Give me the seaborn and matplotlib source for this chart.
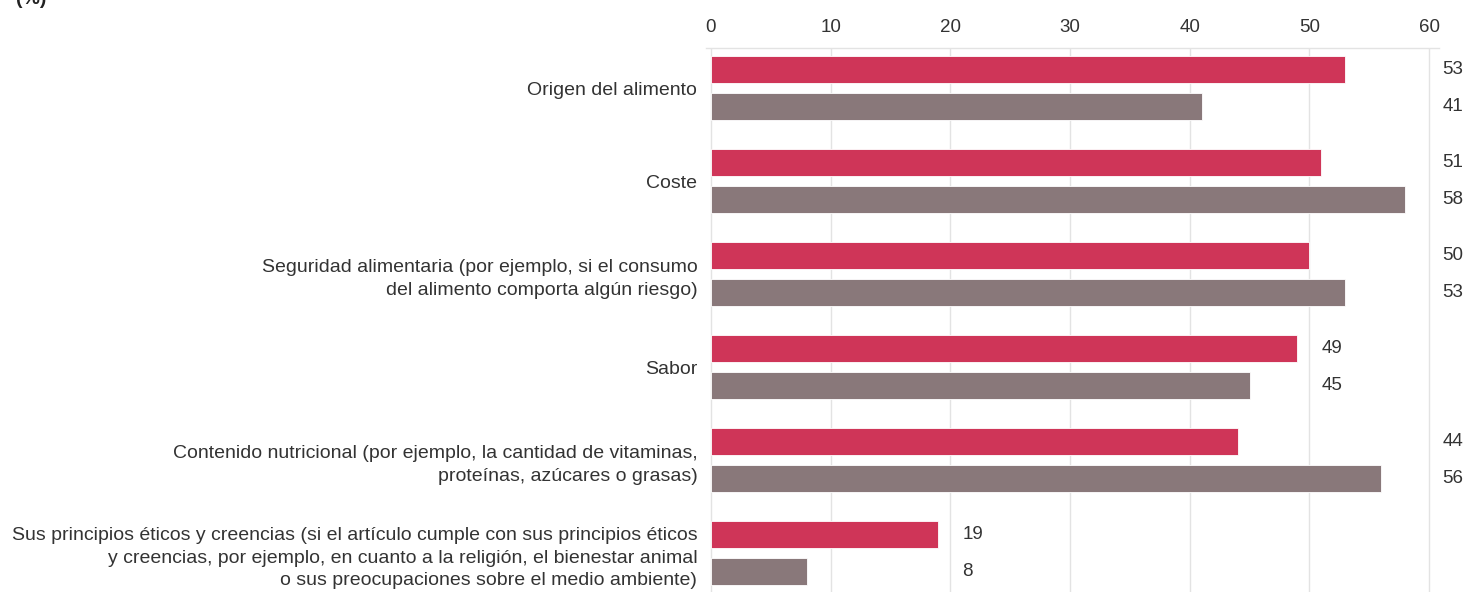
import matplotlib
matplotlib.use("Agg")
import matplotlib.pyplot as plt
import seaborn as sns
import pandas as pd

categories = [
    "Origen del alimento",
    "Coste",
    "Seguridad alimentaria (por ejemplo, si el consumo\ndel alimento comporta algún riesgo)",
    "Sabor",
    "Contenido nutricional (por ejemplo, la cantidad de vitaminas,\nproteínas, azúcares o grasas)",
    "Sus principios éticos y creencias (si el artículo cumple con sus principios éticos\ny creencias, por ejemplo, en cuanto a la religión, el bienestar animal\no sus preocupaciones sobre el medio ambiente)",
]
series_names = ["España", "UE27"]
values_a = [53, 51, 50, 49, 44, 19]
values_b = [41, 58, 53, 45, 56, 8]
x_ticks = [0, 10, 20, 30, 40, 50, 60]

colors = ["#CF3558", "#89787A"]

df = pd.DataFrame({
    "cat": categories * 2,
    "serie": [series_names[0]] * len(categories) + [series_names[1]] * len(categories),
    "val": values_a + values_b,
})

sns.set_theme(style="white")
FONT = ["Liberation Sans Narrow", "Liberation Sans", "DejaVu Sans"]
plt.rcParams["font.family"] = FONT

W, H = 1463, 592
fig = plt.figure(figsize=(W / 100, H / 100), dpi=100)
px0, px60 = 711, 1429
ppu = (px60 - px0) / 60.0
xmin, xmax = -0.45, 60.8
left = (px0 + xmin * ppu) / W
right = (px0 + xmax * ppu) / W
top_px = 48
ax = fig.add_axes([left, -0.002, right - left, (H - top_px) / H + 0.002])

sns.barplot(data=df, y="cat", x="val", hue="serie", palette=colors,
            orient="h", width=0.8, gap=0.27, ax=ax, legend=False,
            edgecolor="white", linewidth=0.6, saturation=1)

ax.set_xlim(xmin, xmax)
ax.set_ylim(5.43, -0.43)
ax.set_xticks(x_ticks)
ax.xaxis.tick_top()
ax.set_xlabel("")
ax.set_ylabel("")
ax.tick_params(axis="x", length=0, pad=9, labelsize=13.5, colors="#333333")
ax.tick_params(axis="y", length=0, pad=6, labelsize=14, colors="#333333")
for t in ax.get_yticklabels():
    t.set_multialignment("right")
    t.set_linespacing(1.45)
ax.grid(axis="x", color="#E3E3E3", linewidth=1)
ax.set_axisbelow(True)
for s in ["left", "right", "bottom"]:
    ax.spines[s].set_visible(False)
ax.spines["top"].set_color("#E3E3E3")
ax.spines["top"].set_linewidth(1)

# value labels
for i in range(len(categories)):
    m = max(values_a[i], values_b[i])
    lx = m + 2 if m + 2 <= 52 else 61.1
    for j, v in enumerate([values_a[i], values_b[i]]):
        yy = i - 0.2 + 0.4 * j
        ax.text(lx, yy, f"{v}", ha="left", va="center", fontsize=13.5,
                color="#333333", clip_on=False)

fig.text(0.011, 1.0, "(%)", ha="left", va="center", fontsize=14,
         fontweight="bold", color="#222222")

fig.savefig("out.png", dpi=100)
